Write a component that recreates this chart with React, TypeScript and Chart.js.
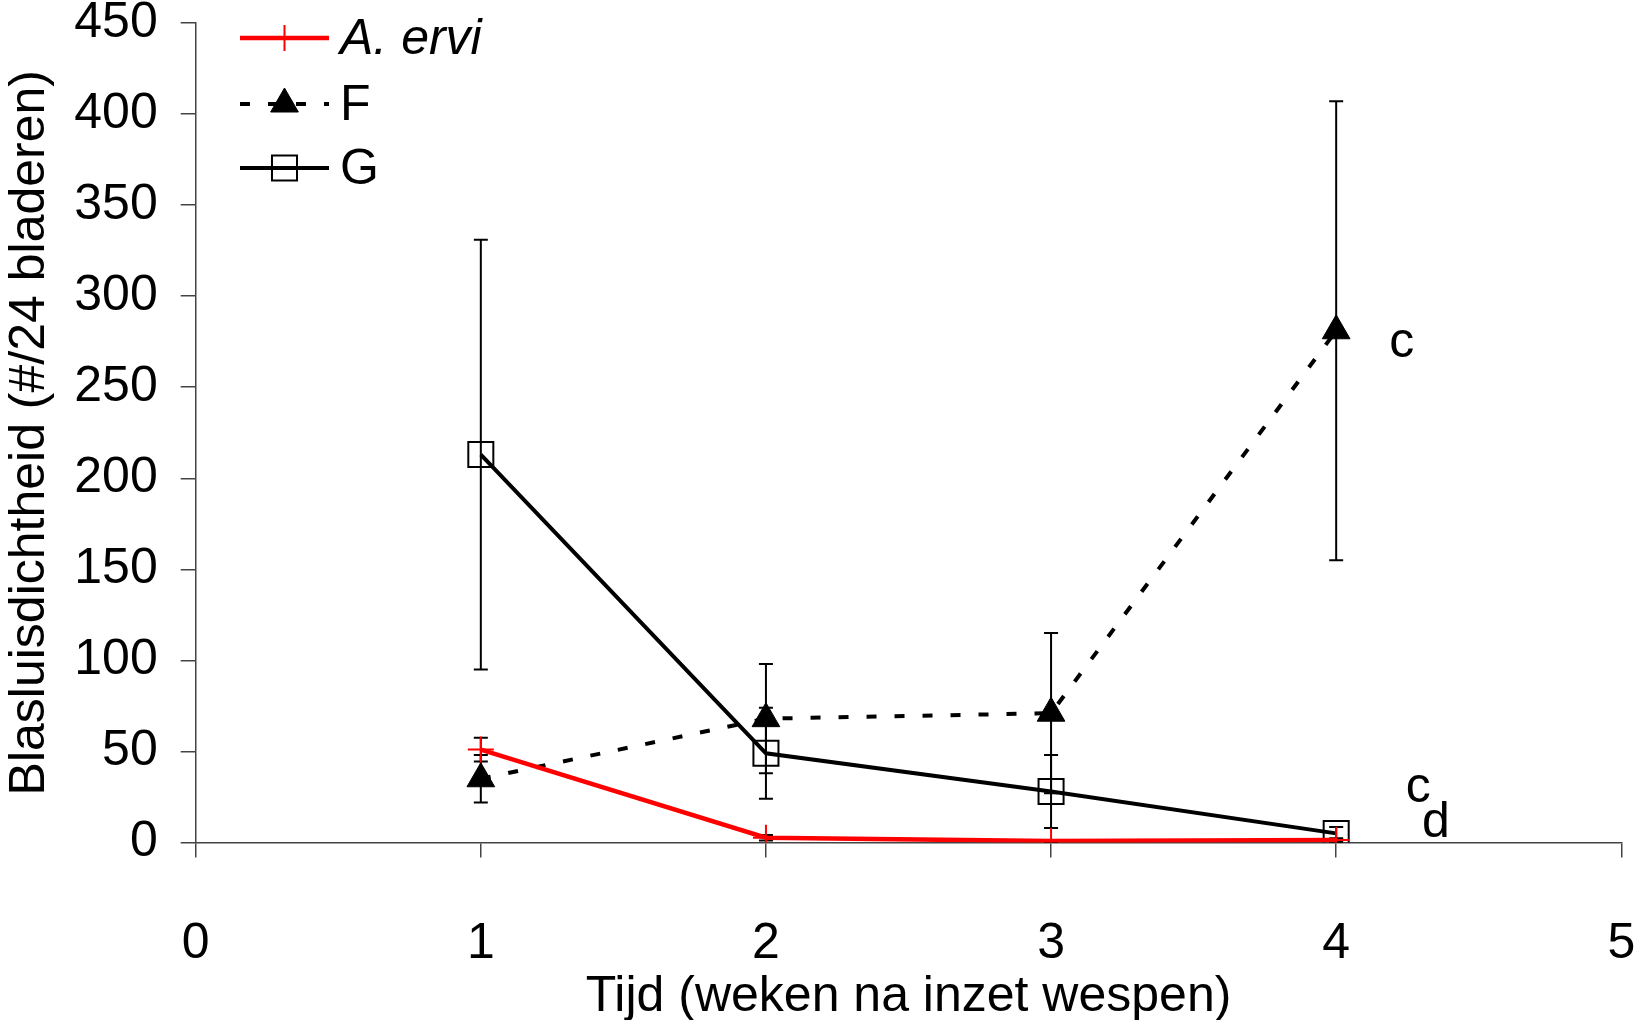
import React, { useEffect, useRef } from 'react';
import { Chart, registerables } from 'chart.js';

Chart.register(...registerables);

// Weeks after releasing the wasps
const weeks = [1, 2, 3, 4];

// Mean aphid density (#/24 leaves) and error per treatment
const aErviMean = [51, 2.6, 0.8, 1.4];
const aErviErr = [6.5, 1.5, 0.5, 1];
const fMean = [35, 68, 71, 281];
const fErr = [13, 30, 44, 126];
const gMean = [213, 49, 28, 5];
const gErr = [118, 25, 20, 3.5];

const xTickValues = [0, 1, 2, 3, 4, 5];
const yTickValues = [0, 50, 100, 150, 200, 250, 300, 350, 400, 450];

const xTitle = 'Tijd (weken na inzet wespen)';
const yTitle = 'Blasluisdichtheid (#/24 bladeren)';

// Significance letters, anchored in data units (centre x, baseline y)
const letterTexts = ['c', 'c', 'd'];
const letterX = [4.23, 4.288, 4.35];
const letterY = [266.6, 22.4, 3.2];

const FONT = "'Liberation Sans', Arial, Helvetica, sans-serif";
const FS = 50;
const W = 1641;
const H = 1020;

const toPoints = (means: number[]) => weeks.map((w, i) => ({ x: w, y: means[i] }));

const errorBarPlugin = {
  id: 'errorBars',
  beforeDatasetsDraw(chart: any) {
    const { ctx, scales } = chart;
    const x = scales.x;
    const y = scales.y;
    ctx.save();
    ctx.strokeStyle = '#000';
    ctx.lineWidth = 2;
    ctx.lineCap = 'butt';
    const cap = 7;
    chart.data.datasets.forEach((ds: any) => {
      const errs: number[] = ds.errors || [];
      ds.data.forEach((p: any, i: number) => {
        const e = errs[i];
        if (!e) return;
        const px = x.getPixelForValue(p.x);
        const top = y.getPixelForValue(p.y + e);
        const bot = y.getPixelForValue(Math.max(p.y - e, 0));
        ctx.beginPath();
        ctx.moveTo(px, top);
        ctx.lineTo(px, bot);
        ctx.moveTo(px - cap, top);
        ctx.lineTo(px + cap, top);
        if (p.y - e >= 0) {
          ctx.moveTo(px - cap, bot);
          ctx.lineTo(px + cap, bot);
        }
        ctx.stroke();
      });
    });
    ctx.restore();
  },
};

const lettersPlugin = {
  id: 'letters',
  afterDatasetsDraw(chart: any) {
    const { ctx, scales } = chart;
    ctx.save();
    ctx.fillStyle = '#000';
    ctx.font = `${FS}px ${FONT}`;
    ctx.textAlign = 'center';
    ctx.textBaseline = 'alphabetic';
    letterTexts.forEach((t, i) => {
      ctx.fillText(t, scales.x.getPixelForValue(letterX[i]), scales.y.getPixelForValue(letterY[i]));
    });
    ctx.restore();
  },
};

const drawSymbol = (ctx: CanvasRenderingContext2D, style: string, cx: number, cy: number, r: number, stroke: string, fill: string, lw: number) => {
  ctx.save();
  ctx.setLineDash([]);
  ctx.lineWidth = lw;
  ctx.strokeStyle = stroke;
  ctx.fillStyle = fill;
  ctx.beginPath();
  if (style === 'cross') {
    ctx.moveTo(cx - r, cy);
    ctx.lineTo(cx + r, cy);
    ctx.moveTo(cx, cy - r);
    ctx.lineTo(cx, cy + r);
    ctx.stroke();
  } else if (style === 'triangle') {
    ctx.moveTo(cx, cy - r);
    ctx.lineTo(cx + r * Math.sin((2 * Math.PI) / 3), cy + r / 2);
    ctx.lineTo(cx - r * Math.sin((2 * Math.PI) / 3), cy + r / 2);
    ctx.closePath();
    ctx.fill();
    ctx.stroke();
  } else if (style === 'rect') {
    const s = Math.SQRT1_2 * r;
    ctx.rect(cx - s, cy - s, 2 * s, 2 * s);
    ctx.fill();
    ctx.stroke();
  }
  ctx.restore();
};

const legendPlugin = {
  id: 'customLegend',
  afterDraw(chart: any) {
    const { ctx } = chart;
    const rowY = [38, 104, 168];
    const x0 = 240;
    const x1 = 329;
    const xm = 284.5;
    ctx.save();
    chart.data.datasets.forEach((ds: any, i: number) => {
      const y = rowY[i];
      ctx.beginPath();
      ctx.strokeStyle = ds.borderColor;
      ctx.lineWidth = ds.borderWidth;
      ctx.setLineDash(ds.borderDash || []);
      ctx.moveTo(x0, y);
      ctx.lineTo(x1, y);
      ctx.stroke();
      ctx.setLineDash([]);
      drawSymbol(ctx, ds.pointStyle, xm, y, ds.pointRadius, ds.pointBorderColor, ds.pointBackgroundColor, ds.pointBorderWidth);
      ctx.fillStyle = '#000';
      ctx.font = `${ds.italicLabel ? 'italic ' : ''}${FS}px ${FONT}`;
      ctx.textAlign = 'left';
      ctx.textBaseline = 'middle';
      ctx.fillText(ds.label, 340, y + 2);
    });
    ctx.restore();
  },
};

export default function App() {
  const canvasRef = useRef<HTMLCanvasElement | null>(null);

  useEffect(() => {
    if (!canvasRef.current) return;
    const chart = new Chart(canvasRef.current, {
      type: 'scatter',
      data: {
        datasets: [
          {
            label: 'A. ervi',
            italicLabel: true,
            data: toPoints(aErviMean),
            errors: aErviErr,
            showLine: true,
            borderColor: '#ff0000',
            borderWidth: 4.5,
            pointStyle: 'cross',
            pointRadius: 13,
            pointBorderColor: '#ff0000',
            pointBackgroundColor: '#ff0000',
            pointBorderWidth: 2,
          } as any,
          {
            label: 'F',
            data: toPoints(fMean),
            errors: fErr,
            showLine: true,
            borderColor: '#000000',
            borderWidth: 4,
            borderDash: [10, 18],
            pointStyle: 'triangle',
            pointRadius: 16,
            pointBorderColor: '#000000',
            pointBackgroundColor: '#000000',
            pointBorderWidth: 1,
          } as any,
          {
            label: 'G',
            data: toPoints(gMean),
            errors: gErr,
            showLine: true,
            borderColor: '#000000',
            borderWidth: 4,
            pointStyle: 'rect',
            pointRadius: 17.7,
            pointBorderColor: '#000000',
            pointBackgroundColor: 'rgba(0,0,0,0)',
            pointBorderWidth: 2,
          } as any,
        ],
      },
      options: {
        responsive: false,
        animation: false,
        devicePixelRatio: 1,
        layout: { padding: { top: 23, right: 17, left: 0, bottom: 0 } },
        plugins: {
          legend: { display: false },
          tooltip: { enabled: false },
        },
        scales: {
          x: {
            type: 'linear',
            min: 0,
            max: 5,
            afterBuildTicks: (s: any) => {
              s.ticks = xTickValues.map((v) => ({ value: v }));
            },
            afterFit: (s: any) => {
              s.height = H - 842.5;
              s.paddingLeft = 0;
              s.paddingRight = 0;
            },
            ticks: {
              color: '#000',
              font: { family: FONT, size: FS },
              padding: 57,
              maxRotation: 0,
              autoSkip: false,
            },
            grid: { drawOnChartArea: false, drawTicks: true, tickLength: 15, color: '#444', lineWidth: 1.5 },
            border: { display: true, color: '#444', width: 1.5 },
            title: { display: true, text: xTitle, color: '#000', font: { family: FONT, size: FS }, padding: { top: 0, bottom: -7 } },
          },
          y: {
            type: 'linear',
            min: 0,
            max: 450,
            afterBuildTicks: (s: any) => {
              s.ticks = yTickValues.map((v) => ({ value: v }));
            },
            afterFit: (s: any) => {
              s.width = 195.7;
              s.paddingTop = 0;
              s.paddingBottom = 0;
            },
            ticks: {
              color: '#000',
              font: { family: FONT, size: FS },
              padding: 23,
              autoSkip: false,
            },
            grid: { drawOnChartArea: false, drawTicks: true, tickLength: 15, color: '#444', lineWidth: 1.5 },
            border: { display: true, color: '#444', width: 1.5 },
            title: { display: true, text: yTitle, color: '#000', font: { family: FONT, size: FS }, padding: 0 },
          },
        },
      } as any,
      plugins: [errorBarPlugin, lettersPlugin, legendPlugin],
    });
    return () => chart.destroy();
  }, []);

  return (
    <div style={{ position: 'fixed', left: 0, top: 0, width: W, height: H, background: '#fff' }}>
      <canvas ref={canvasRef} width={W} height={H} style={{ width: W, height: H, display: 'block' }} />
    </div>
  );
}
